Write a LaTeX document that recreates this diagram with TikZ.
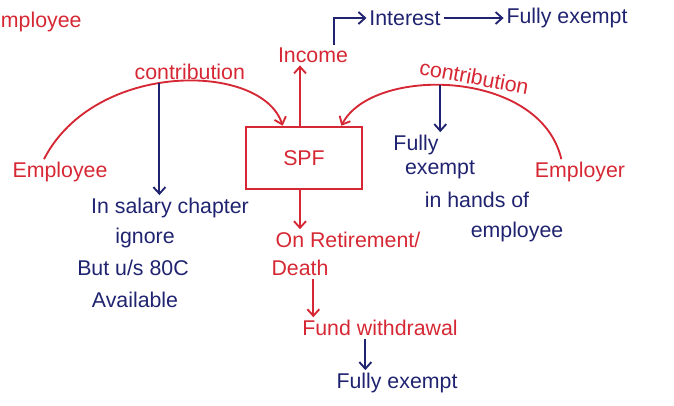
\documentclass[tikz,border=0pt]{standalone}
\usepackage{fontspec}
\setmainfont{Liberation Sans}
\usetikzlibrary{arrows.meta}
\definecolor{inkred}{RGB}{214,40,52}
\definecolor{inkblue}{RGB}{32,36,112}

\begin{document}
\begin{tikzpicture}[
      x=0.75pt, y=-0.75pt,
      every node/.style={font=\fontsize{16}{18}\selectfont, inner sep=2pt},
      redtxt/.style={text=inkred},
      bluetxt/.style={text=inkblue},
      fundbox/.style={draw=inkred, line width=1.4pt, minimum width=87pt,
                      minimum height=47pt, text=inkred},
      redarr/.style={-{Straight Barb[length=5pt,width=9pt]}, draw=inkred, line width=1.4pt},
      bluearr/.style={-{Straight Barb[length=5pt,width=9pt]}, draw=inkblue, line width=1.4pt},
      arcline/.style={draw=inkred, line width=1.4pt},
    ]
    \useasboundingbox (0,0) rectangle (674,405);

    %% Fund in the middle
    \node[fundbox] (spf) at (304,158) {SPF};
    \node[redtxt] (income) at (313,55) {Income};
    \node[anchor=west, redtxt] (cut) at (-2,22) {mployee};

    %% Interest row
    \node[bluetxt] (interest) at (405,18) {Interest};
    \node[bluetxt] (intexempt) at (567,18) {Fully exempt};
    \draw[bluearr] ([xshift=-13pt]income.north east) |- (interest.west);
    \draw[bluearr] (interest.east) -- (intexempt.west);

    %% Two sides
    \node[redtxt] (employee) at (60,172) {Employee};
    \node[redtxt] (employer) at (580,172) {Employer};

    %% Contribution arcs
    \draw[arcline, -{Straight Barb[length=5pt,width=9pt]}] ([xshift=-12pt]employee.north)
        .. controls (95,60) and (262,62) .. ([xshift=-16pt]spf.north)
        node[pos=0.55, sloped, above=-2pt, redtxt] {contribution}
        coordinate[pos=0.45] (eecut);
    \draw[arcline, -{Straight Barb[length=5pt,width=9pt]}] ([xshift=-14pt]employer.north)
        .. controls (540,68) and (372,66) .. ([xshift=28pt]spf.north)
        node[pos=0.44, sloped, above=0pt, redtxt] {contribution}
        coordinate[pos=0.55] (ercut);

    %% Employee side notes
    \node[bluetxt] (salary) at (170,208) {In salary chapter};
    \node[bluetxt] (ignore) at (145,238) {ignore};
    \node[bluetxt] (eightyc) at (133,268) {But u/s 80C};
    \node[bluetxt] (avail) at (135,300) {Available};
    \draw[bluearr] (eecut) -- (eecut |- salary.north);

    %% Employer side notes
    \node[bluetxt] (fully) at (416,145) {Fully};
    \node[bluetxt] (exempt) at (440,170) {exempt};
    \node[bluetxt] (hands) at (477,200) {in hands of};
    \node[bluetxt] (emp) at (517,232) {employee};
    \draw[bluearr] (ercut) -- (ercut |- fully.north);

    %% Out of the fund
    \draw[redarr] ([xshift=-3pt]spf.north) -- ([xshift=-3pt]spf.north |- income.south);
    \node[redtxt] (retire) at (348,240) {On Retirement/};
    \node[redtxt] (death) at (300,268) {Death};
    \draw[redarr] ([xshift=-3pt]spf.south) -- ([xshift=-3pt]spf.south |- retire.north);
    \node[redtxt] (fund) at (380,328) {Fund withdrawal};
    \draw[redarr] ([xshift=10pt]death.south) -- ([xshift=10pt]death.south |- fund.north);
    \node[bluetxt] (fundexempt) at (397,383) {Fully exempt};
    \draw[bluearr] ([xshift=-11pt]fund.south) -- ([xshift=-11pt]fund.south |- fundexempt.north);
  \end{tikzpicture}
\end{document}
